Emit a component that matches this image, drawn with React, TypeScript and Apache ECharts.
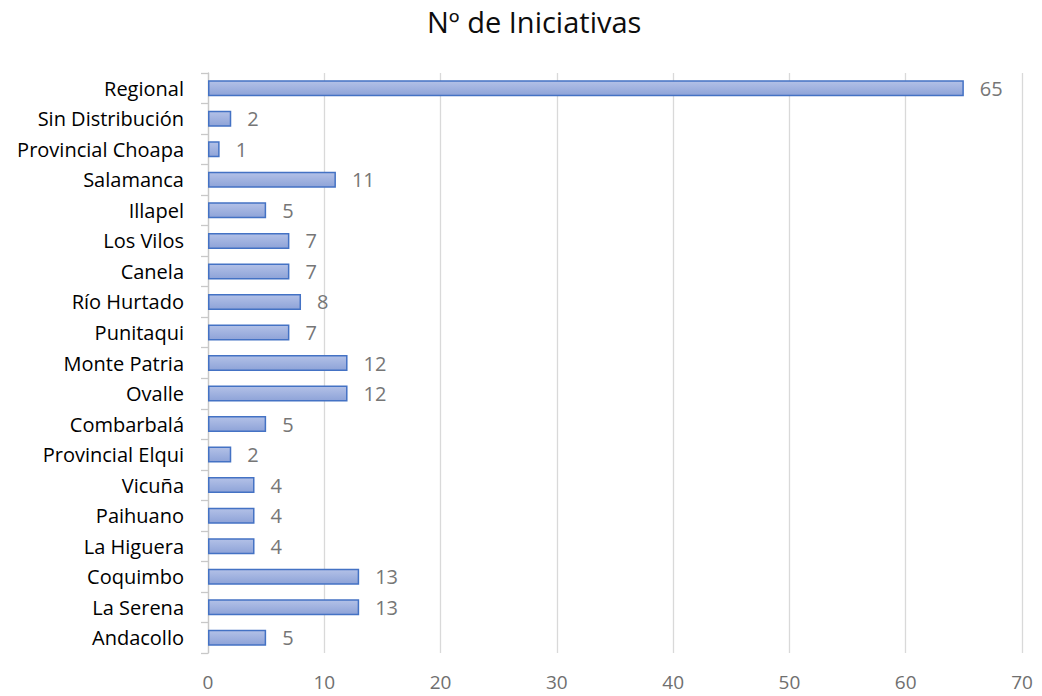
import React, { useEffect, useRef } from "react";
import * as echarts from "echarts";

const categories = [
  "Regional",
  "Sin Distribución",
  "Provincial Choapa",
  "Salamanca",
  "Illapel",
  "Los Vilos",
  "Canela",
  "Río Hurtado",
  "Punitaqui",
  "Monte Patria",
  "Ovalle",
  "Combarbalá",
  "Provincial Elqui",
  "Vicuña",
  "Paihuano",
  "La Higuera",
  "Coquimbo",
  "La Serena",
  "Andacollo",
];
const values = [65, 2, 1, 11, 5, 7, 7, 8, 7, 12, 12, 5, 2, 4, 4, 4, 13, 13, 5];
const xTicks = { min: 0, max: 70, interval: 10 };

const FONT = "'Open Sans', 'Noto Sans', sans-serif";

export default function App() {
  const ref = useRef<HTMLDivElement>(null);
  useEffect(() => {
    document.body.style.margin = "0";
    const chart = echarts.init(ref.current!, null, { renderer: "svg" });
    chart.setOption({
      animation: false,
      backgroundColor: "#ffffff",
      title: {
        text: "Nº de Iniciativas",
        left: 422,
        top: 2,
        textStyle: { fontFamily: FONT, fontSize: 29, fontWeight: "normal", color: "#0d0d0d" },
      },
      grid: { left: 208, right: 20, top: 73, bottom: 43, containLabel: false },
      xAxis: {
        type: "value",
        min: xTicks.min,
        max: xTicks.max,
        interval: xTicks.interval,
        axisLine: { show: false },
        axisTick: { show: false },
        splitLine: { lineStyle: { color: "#d9d9d9", width: 1.3 } },
        axisLabel: { fontFamily: FONT, fontSize: 19, color: "#6f6f6f", margin: 19 },
      },
      yAxis: {
        type: "category",
        data: categories,
        inverse: true,
        axisLine: { lineStyle: { color: "#c8c8c8", width: 1.3 } },
        axisTick: { show: true, length: 7, lineStyle: { color: "#c8c8c8", width: 1.3 } },
        axisLabel: { fontFamily: FONT, fontSize: 20, color: "#000000", margin: 24 },
      },
      series: [
        {
          type: "bar",
          data: values,
          barWidth: 16,
          itemStyle: {
            color: new echarts.graphic.LinearGradient(0, 0, 0, 1, [
              { offset: 0, color: "#b3c1e7" },
              { offset: 1, color: "#8ea3d8" },
            ]),
            borderColor: "#4472c4",
            borderWidth: 1.5,
          },
          label: {
            show: true,
            position: "right",
            distance: 16,
            fontFamily: FONT,
            fontSize: 20,
            color: "#767676",
          },
        },
      ],
    });
    return () => chart.dispose();
  }, []);
  return <div ref={ref} style={{ width: 1042, height: 696 }} />;
}
